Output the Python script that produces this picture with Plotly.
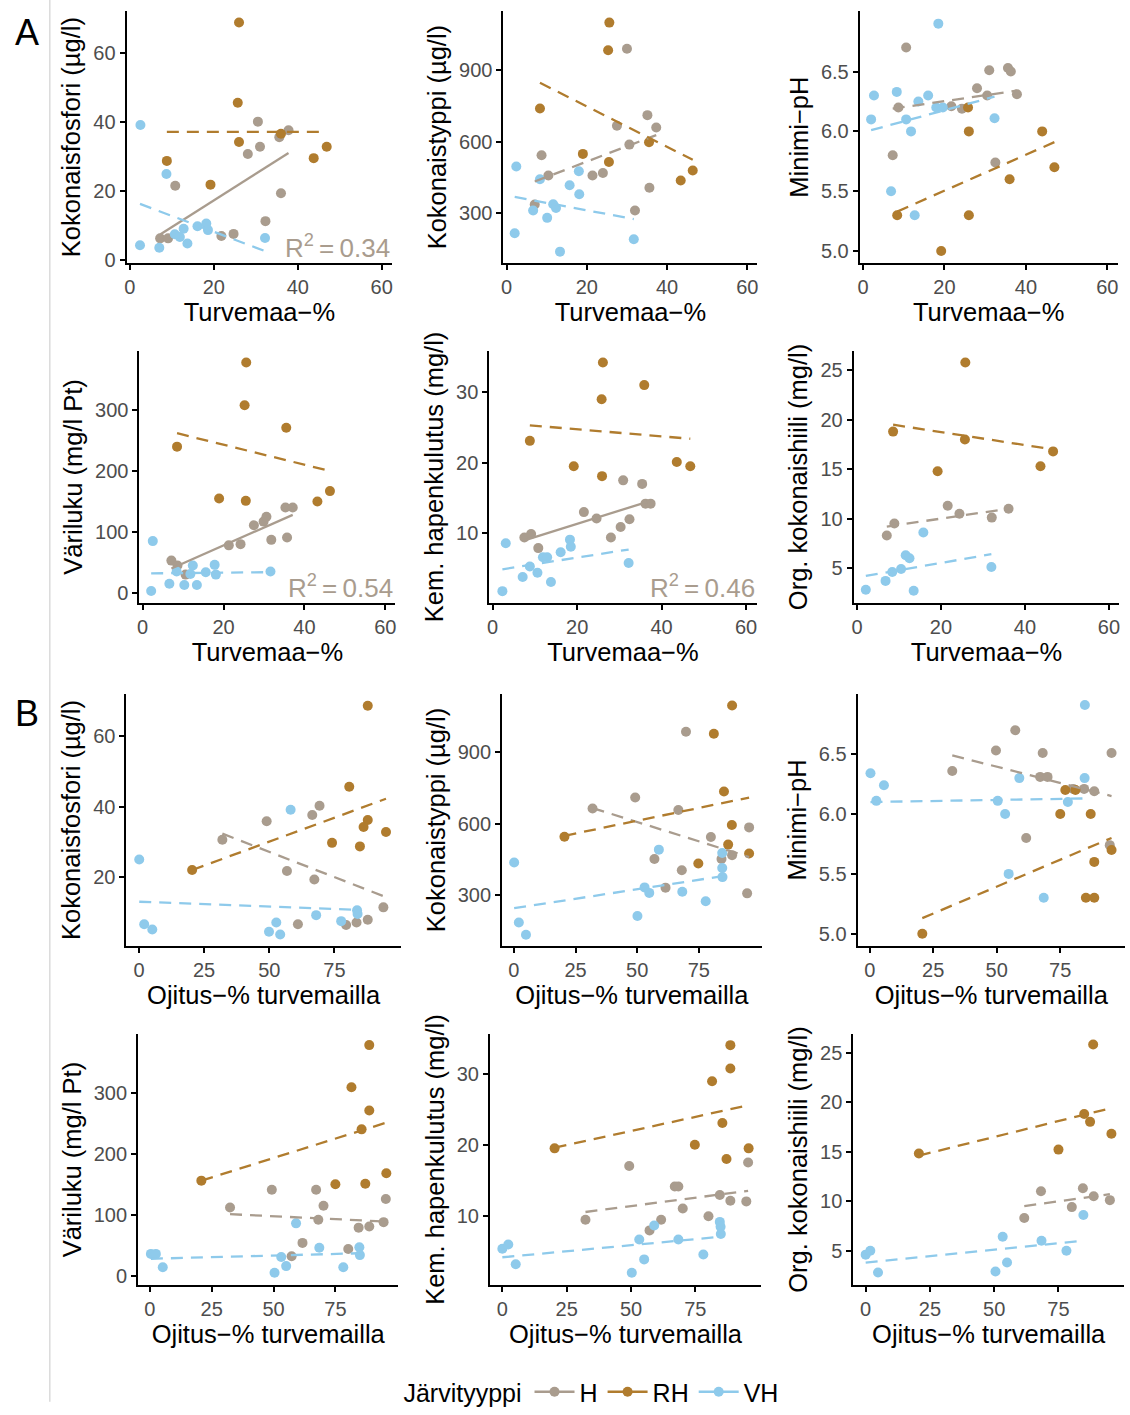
import plotly.graph_objects as go
from plotly.subplots import make_subplots

# ---------------- data ----------------
GROUPS = ["H", "RH", "VH"]
LEGEND_TITLE = "Järvityyppi"
A_XTICKS = [0, 20, 40, 60]
B_XTICKS = [0, 25, 50, 75]
A_XTITLE = "Turvemaa−%"
B_XTITLE = "Ojitus−% turvemailla"

# A1 Kokonaisfosfori vs Turvemaa-%
A_TP_H_x = [7.2, 9.1, 10.8, 21.8, 24.7, 28.1, 30.5, 31.0, 32.3, 35.6, 37.8, 36.0]
A_TP_H_y = [6.3, 6.3, 21.6, 7.0, 7.6, 30.8, 40.2, 32.9, 11.3, 35.7, 37.7, 19.4]
A_TP_RH_x = [26.0, 25.7, 26.0, 8.8, 19.2, 36.0, 43.8, 46.9]
A_TP_RH_y = [69.0, 45.7, 34.3, 28.8, 21.9, 36.7, 29.6, 32.9]
A_TP_VH_x = [2.5, 2.4, 7.0, 8.7, 10.7, 11.9, 12.8, 13.7, 16.1, 18.2, 18.6, 32.2]
A_TP_VH_y = [39.2, 4.3, 3.6, 25.0, 7.5, 6.7, 9.1, 4.8, 9.8, 10.6, 8.7, 6.4]
A_TP_trend = [[7.4, 31.1], [37.2, 37.2], [16.3, 2.6]]  # H, RH, VH at min/max x

# A2 Kokonaistyppi
A_TN_H_x = [30.0, 8.7, 7.0, 10.4, 21.4, 24.0, 27.5, 30.6, 35.1, 37.3, 35.6, 32.0]
A_TN_H_y = [990, 542, 335, 457, 457, 468, 666, 587, 711, 659, 406, 310]
A_TN_RH_x = [25.6, 25.3, 8.3, 19.0, 25.5, 35.5, 43.4, 46.4]
A_TN_RH_y = [1100, 984, 739, 548, 514, 597, 436, 478]
A_TN_VH_x = [2.4, 2.0, 6.6, 8.3, 10.1, 11.6, 12.3, 13.3, 15.7, 18.0, 18.1, 31.7]
A_TN_VH_y = [495, 214, 310, 441, 279, 336, 321, 137, 416, 475, 378, 189]
A_TN_trend = [[432, 627], [847, 523], [367, 274]]

# A3 Minimi-pH
A_PH_H_x = [10.6, 7.3, 8.7, 21.7, 24.3, 28.0, 31.0, 30.5, 35.6, 36.3, 37.8, 32.5]
A_PH_H_y = [6.70, 5.80, 6.20, 6.21, 6.19, 6.36, 6.51, 6.30, 6.53, 6.50, 6.31, 5.74]
A_PH_RH_x = [8.4, 19.2, 25.8, 26.0, 26.0, 36.0, 44.0, 47.0]
A_PH_RH_y = [5.30, 5.00, 6.20, 6.00, 5.30, 5.60, 6.00, 5.70]
A_PH_VH_x = [18.5, 2.7, 2.0, 8.3, 10.6, 11.8, 13.6, 16.0, 18.0, 19.6, 6.9, 12.7, 32.3]
A_PH_VH_y = [6.90, 6.30, 6.10, 6.33, 6.10, 6.00, 6.25, 6.30, 6.20, 6.20, 5.50, 5.30, 6.11]
A_PH_trend = [[6.19, 6.34], [5.33, 5.91], [6.01, 6.29]]

# A4 Väriluku
A_COL_H_x = [7.1, 8.6, 10.6, 21.3, 24.2, 27.5, 29.9, 30.6, 31.8, 35.3, 37.1, 35.7]
A_COL_H_y = [53, 45, 30, 78, 80, 111, 117, 125, 87, 140, 140, 91]
A_COL_RH_x = [25.6, 25.2, 35.5, 8.5, 18.9, 25.5, 43.2, 46.3]
A_COL_RH_y = [378, 308, 271, 240, 155, 151, 150, 167]
A_COL_VH_x = [2.5, 2.1, 6.6, 8.4, 10.3, 11.8, 12.4, 13.4, 15.6, 17.8, 18.1, 31.6]
A_COL_VH_y = [85, 3, 15, 35, 13, 31, 45, 13, 34, 46, 30, 35]
A_COL_trend = [[40, 128], [262, 200], [32, 34]]

# A5 Kem. hapenkulutus
A_COD_H_x = [30.9, 35.4, 21.6, 24.6, 36.2, 37.4, 32.4, 30.3, 28.0, 7.5, 9.1, 10.8]
A_COD_H_y = [17.5, 17.0, 13.0, 12.1, 14.2, 14.2, 12.0, 10.9, 9.4, 9.4, 9.9, 7.9]
A_COD_RH_x = [26.1, 25.8, 35.9, 8.8, 19.2, 25.9, 43.6, 46.8]
A_COD_RH_y = [34.2, 29.0, 31.0, 23.1, 19.5, 18.1, 20.1, 19.5]
A_COD_VH_x = [3.1, 2.3, 7.1, 8.8, 10.6, 11.9, 12.9, 13.8, 16.1, 18.3, 18.5, 32.2]
A_COD_VH_y = [8.6, 1.8, 3.8, 5.3, 4.4, 6.6, 6.6, 3.1, 7.3, 9.1, 8.1, 5.8]
A_COD_trend = [[9.0, 14.6], [25.3, 23.4], [4.9, 7.7]]

# A6 Org. kokonaishiili
A_TOC_H_x = [7.1, 8.9, 21.6, 24.4, 32.1, 36.1]
A_TOC_H_y = [8.3, 9.5, 11.3, 10.5, 10.1, 11.0]
A_TOC_RH_x = [25.8, 8.6, 25.7, 19.2, 43.7, 46.7]
A_TOC_RH_y = [25.8, 18.8, 18.0, 14.8, 15.3, 16.8]
A_TOC_VH_x = [2.1, 6.8, 8.4, 10.5, 11.6, 12.5, 13.5, 15.8, 32.0]
A_TOC_VH_y = [2.8, 3.7, 4.6, 4.9, 6.3, 6.0, 2.7, 8.6, 5.1]
A_TOC_trend = [[9.2, 11.0], [19.5, 17.0], [4.2, 6.4]]

# B1 Kokonaisfosfori vs Ojitus-%
B_TP_H_x = [69.3, 66.5, 49.0, 32.0, 56.8, 67.3, 93.8, 61.0, 79.5, 83.5, 87.8]
B_TP_H_y = [40.2, 37.6, 35.8, 30.6, 21.7, 19.3, 11.4, 6.6, 6.4, 7.1, 7.9]
B_TP_RH_x = [87.8, 80.7, 87.8, 86.2, 94.8, 74.1, 84.8, 20.4]
B_TP_RH_y = [68.6, 45.6, 36.2, 34.2, 32.8, 29.7, 28.7, 22.0]
B_TP_VH_x = [0.1, 2.0, 5.1, 58.2, 52.7, 49.9, 54.2, 68.0, 77.6, 83.7, 83.9]
B_TP_VH_y = [25.0, 6.6, 5.1, 39.1, 7.1, 4.5, 3.7, 9.2, 7.5, 10.6, 9.5]
B_TP_trend = [[32.3, 14.6], [22.0, 42.2], [13.0, 10.7]]

# B2 Kokonaistyppi
B_TN_H_x = [69.8, 49.2, 31.9, 66.7, 79.9, 95.4, 57.0, 84.2, 88.5, 68.1, 61.5, 94.6]
B_TN_H_y = [984, 709, 663, 657, 544, 584, 452, 452, 468, 405, 332, 308]
B_TN_RH_x = [88.5, 81.1, 85.2, 88.4, 86.9, 95.4, 74.8, 20.5]
B_TN_RH_y = [1094, 976, 734, 594, 512, 475, 433, 545]
B_TN_VH_x = [0.1, 2.0, 4.9, 58.8, 84.5, 84.5, 84.6, 53.0, 54.9, 68.3, 77.8, 50.1]
B_TN_VH_y = [437, 186, 135, 491, 477, 414, 376, 333, 310, 315, 275, 213]
B_TN_trend = [[665, 460], [549, 709], [246, 380]]

# B3 Minimi-pH
B_PH_H_x = [57.3, 49.7, 68.1, 32.5, 67.1, 70.0, 80.1, 84.4, 88.4, 95.2, 61.6, 94.5]
B_PH_H_y = [6.70, 6.53, 6.51, 6.36, 6.31, 6.31, 6.21, 6.21, 6.19, 6.51, 5.80, 5.74]
B_PH_RH_x = [77.0, 81.0, 75.0, 87.0, 88.4, 95.2, 85.1, 88.4, 20.7]
B_PH_RH_y = [6.20, 6.20, 6.00, 6.00, 5.60, 5.70, 5.30, 5.30, 5.00]
B_PH_VH_x = [84.7, 0.3, 2.6, 5.6, 58.9, 50.4, 53.3, 54.7, 68.5, 78.0, 84.6]
B_PH_VH_y = [6.91, 6.34, 6.11, 6.24, 6.30, 6.11, 6.00, 5.50, 5.30, 6.10, 6.30]
B_PH_trend = [[6.49, 6.15], [5.13, 5.80], [6.10, 6.13]]

# B4 Väriluku
B_COL_H_x = [32.4, 49.3, 67.2, 70.2, 68.1, 95.4, 61.7, 57.3, 80.2, 84.4, 88.7, 94.5]
B_COL_H_y = [112, 141, 141, 115, 92, 126, 54, 32, 44, 79, 81, 88]
B_COL_RH_x = [88.7, 81.5, 88.7, 85.6, 20.8, 75.0, 87.1, 95.6]
B_COL_RH_y = [378, 309, 271, 240, 156, 150, 151, 168]
B_COL_VH_x = [0.4, 2.4, 5.2, 59.1, 50.4, 53.1, 55.1, 68.5, 78.2, 84.7, 84.9]
B_COL_VH_y = [36, 36, 14, 86, 5, 31, 16, 46, 14, 47, 34]
B_COL_trend = [[101, 89], [156, 251], [28, 37]]

# B5 Kem. hapenkulutus
B_COD_H_x = [49.3, 67.0, 68.4, 95.5, 32.3, 70.1, 84.5, 88.6, 94.8, 80.1, 61.7, 57.2]
B_COD_H_y = [17.0, 14.1, 14.1, 17.5, 9.4, 11.0, 12.9, 12.1, 12.0, 9.9, 9.4, 7.9]
B_COD_RH_x = [88.6, 88.6, 81.5, 85.5, 20.3, 74.8, 87.1, 95.7]
B_COD_RH_y = [34.1, 30.8, 29.0, 23.1, 19.5, 20.0, 18.0, 19.5]
B_COD_VH_x = [0.0, 2.3, 5.2, 53.2, 59.0, 50.3, 55.1, 68.4, 78.1, 84.5, 84.8, 84.9]
B_COD_VH_y = [5.3, 5.9, 3.1, 6.6, 8.6, 1.9, 3.8, 6.6, 4.5, 9.1, 8.4, 7.4]
B_COD_trend = [[10.5, 13.5], [19.6, 25.6], [4.1, 7.0]]

# B6 Org. kokonaishiili
B_TOC_H_x = [61.7, 68.2, 80.2, 84.5, 88.7, 95.0]
B_TOC_H_y = [8.3, 11.0, 9.4, 11.3, 10.5, 10.1]
B_TOC_RH_x = [88.5, 85.0, 87.3, 20.7, 75.0, 95.6]
B_TOC_RH_y = [25.8, 18.8, 18.0, 14.8, 15.2, 16.8]
B_TOC_VH_x = [0.0, 1.8, 4.8, 53.3, 50.5, 55.0, 68.4, 78.1, 84.7]
B_TOC_VH_y = [4.6, 5.0, 2.8, 6.4, 2.9, 3.8, 6.0, 5.0, 8.6]
B_TOC_trend = [[9.5, 10.7], [14.6, 19.4], [3.8, 6.0]]

YT_TP = "Kokonaisfosfori (µg/l)"
YT_TN = "Kokonaistyppi (µg/l)"
YT_PH = "Minimi−pH"
YT_COL = "Väriluku (mg/l Pt)"
YT_COD = "Kem. hapenkulutus (mg/l)"
YT_TOC = "Org. kokonaishiili (mg/l)"

R2_LABELS = ["0.34", "0.54", "0.46"]

# ---------------- styling / layout ----------------
COLORS = {"H": "#A99C8E", "RH": "#B07C2E", "VH": "#8ECAEB"}
FONT = "Liberation Sans, Arial, sans-serif"
W, H = 1130, 1415
TICK_SIZE = 20
TITLE_SIZE = 25.5

ROWS_PX = [(11.5, 264.5), (353.5, 606.5), (698.5, 952.0), (1040.3, 1293.7)]


def P(xs, ys, trend, ytitle, yticks, yrange, part, cols, solid=None, r2=None, tfmt=None):
    return dict(x=xs, y=ys, trend=trend, ytitle=ytitle, yticks=yticks, yrange=yrange,
                part=part, cols=cols, solid=solid, r2=r2, tfmt=tfmt)


PANELS = [
    P([A_TP_H_x, A_TP_RH_x, A_TP_VH_x], [A_TP_H_y, A_TP_RH_y, A_TP_VH_y], A_TP_trend,
      YT_TP, [0, 20, 40, 60], [-0.8, 72.2], "A", (124.9, 391.2), "H", R2_LABELS[0]),
    P([A_TN_H_x, A_TN_RH_x, A_TN_VH_x], [A_TN_H_y, A_TN_RH_y, A_TN_VH_y], A_TN_trend,
      YT_TN, [300, 600, 900], [90, 1147], "A", (502.8, 757.3)),
    P([A_PH_H_x, A_PH_RH_x, A_PH_VH_x], [A_PH_H_y, A_PH_RH_y, A_PH_VH_y], A_PH_trend,
      YT_PH, [5.0, 5.5, 6.0, 6.5], [4.902, 7.002], "A", (860.0, 1118.5), tfmt=".1f"),
    P([A_COL_H_x, A_COL_RH_x, A_COL_VH_x], [A_COL_H_y, A_COL_RH_y, A_COL_VH_y], A_COL_trend,
      YT_COL, [0, 100, 200, 300], [-16, 396.5], "A", (137.8, 394.5), "H", R2_LABELS[1]),
    P([A_COD_H_x, A_COD_RH_x, A_COD_VH_x], [A_COD_H_y, A_COD_RH_y, A_COD_VH_y], A_COD_trend,
      YT_COD, [10, 20, 30], [0.17, 35.8], "A", (488.6, 756.6), "H", R2_LABELS[2]),
    P([A_TOC_H_x, A_TOC_RH_x, A_TOC_VH_x], [A_TOC_H_y, A_TOC_RH_y, A_TOC_VH_y], A_TOC_trend,
      YT_TOC, [5, 10, 15, 20, 25], [1.5, 26.93], "A", (853.9, 1120.4)),
    P([B_TP_H_x, B_TP_RH_x, B_TP_VH_x], [B_TP_H_y, B_TP_RH_y, B_TP_VH_y], B_TP_trend,
      YT_TP, [20, 40, 60], [0.46, 71.9], "B", (124.8, 399.9)),
    P([B_TN_H_x, B_TN_RH_x, B_TN_VH_x], [B_TN_H_y, B_TN_RH_y, B_TN_VH_y], B_TN_trend,
      YT_TN, [300, 600, 900], [88, 1142], "B", (501.4, 761.7)),
    P([B_PH_H_x, B_PH_RH_x, B_PH_VH_x], [B_PH_H_y, B_PH_RH_y, B_PH_VH_y], B_PH_trend,
      YT_PH, [5.0, 5.5, 6.0, 6.5], [4.898, 7.002], "B", (857.8, 1126.0), tfmt=".1f"),
    P([B_COL_H_x, B_COL_RH_x, B_COL_VH_x], [B_COL_H_y, B_COL_RH_y, B_COL_VH_y], B_COL_trend,
      YT_COL, [0, 100, 200, 300], [-15.75, 396.75], "B", (136.4, 397.5)),
    P([B_COD_H_x, B_COD_RH_x, B_COD_VH_x], [B_COD_H_y, B_COD_RH_y, B_COD_VH_y], B_COD_trend,
      YT_COD, [10, 20, 30], [0.11, 35.72], "B", (489.3, 761.0)),
    P([B_TOC_H_x, B_TOC_RH_x, B_TOC_VH_x], [B_TOC_H_y, B_TOC_RH_y, B_TOC_VH_y], B_TOC_trend,
      YT_TOC, [5, 10, 15, 20, 25], [1.49, 26.9], "B", (853.6, 1125.0)),
]

fig = make_subplots(rows=4, cols=3)

annotations = []
for i, p in enumerate(PANELS):
    r, c = i // 3 + 1, i % 3 + 1
    n = i + 1
    # points
    for g, xs, ys in zip(GROUPS, p["x"], p["y"]):
        fig.add_trace(go.Scatter(x=xs, y=ys, mode="markers", showlegend=False,
                                 marker=dict(color=COLORS[g], size=10, line=dict(width=0)),
                                 hoverinfo="skip"), row=r, col=c)
    # trend lines
    for g, xs, ty in zip(GROUPS, p["x"], p["trend"]):
        dash = "solid" if p["solid"] == g else "12px,8px"
        fig.add_trace(go.Scatter(x=[min(xs), max(xs)], y=ty, mode="lines", showlegend=False,
                                 line=dict(color=COLORS[g], width=2.3, dash=dash),
                                 hoverinfo="skip"), row=r, col=c)

    left, right = p["cols"]
    top, bottom = ROWS_PX[r - 1]
    xa = "xaxis" if n == 1 else f"xaxis{n}"
    ya = "yaxis" if n == 1 else f"yaxis{n}"
    is_a = p["part"] == "A"
    xticks = A_XTICKS if is_a else B_XTICKS
    xrange = [-0.8, 62.5] if is_a else [-4.8, 100.5]
    axis_common = dict(showline=True, linecolor="black", linewidth=2, ticks="outside",
                       ticklen=5, tickwidth=1.6, tickcolor="black", showgrid=False,
                       zeroline=False, tickfont=dict(size=TICK_SIZE, color="#4D4D4D", family=FONT))
    fig.layout[xa].update(domain=[left / W, right / W], range=xrange, tickvals=xticks,
                          title=dict(text=A_XTITLE if is_a else B_XTITLE, standoff=5,
                                     font=dict(size=TITLE_SIZE, color="black", family=FONT)),
                          **axis_common)
    ydict = dict(domain=[1 - bottom / H, 1 - top / H], range=p["yrange"], tickvals=p["yticks"],
                 title=dict(text=p["ytitle"], standoff=5,
                            font=dict(size=TITLE_SIZE, color="black", family=FONT)),
                 **axis_common)
    if p["tfmt"]:
        ydict["tickformat"] = p["tfmt"]
    fig.layout[ya].update(**ydict)

    if p["r2"]:
        annotations.append(dict(
            text=f"R<sup>2</sup>\u2009=\u20090.{p['r2'].split('.')[1]}" if p["r2"].startswith("0.")
            else f"R<sup>2</sup> = {p['r2']}",
            xref=f"x{'' if n == 1 else n} domain",
            yref=f"y{'' if n == 1 else n} domain", x=1.0, y=-0.01, xanchor="right",
            yanchor="bottom", showarrow=False,
            font=dict(size=26, color=COLORS["H"], family=FONT)))

# legend entries
for g in GROUPS:
    fig.add_trace(go.Scatter(x=[None], y=[None], mode="lines+markers", name=g,
                             line=dict(color=COLORS[g], width=2.3),
                             marker=dict(color=COLORS[g], size=10)), row=1, col=1)

annotations.append(dict(text="A", xref="paper", yref="paper", x=25 / W, y=1 - 33 / H,
                        xanchor="center", yanchor="middle", showarrow=False,
                        font=dict(size=36, color="black", family=FONT)))
annotations.append(dict(text="B", xref="paper", yref="paper", x=25 / W, y=1 - 718 / H,
                        xanchor="center", yanchor="middle", showarrow=False,
                        font=dict(size=36, color="black", family=FONT)))

fig.update_layout(
    width=W, height=H, margin=dict(l=0, r=0, t=0, b=0),
    paper_bgcolor="white", plot_bgcolor="white",
    font=dict(family=FONT, color="black"),
    annotations=annotations,
    shapes=[dict(type="line", xref="paper", yref="paper", x0=48 / W, x1=48 / W, y0=0.003, y1=1,
                 line=dict(color="#C8C8C8", width=1))],
    legend=dict(orientation="h", x=592 / W, xanchor="center", y=1 - 1401 / H, yanchor="middle",
                title=dict(text=LEGEND_TITLE, side="left", font=dict(size=25, color="black")),
                font=dict(size=25, color="black"), itemwidth=40, bgcolor="rgba(0,0,0,0)"),
)

fig.write_html("out.html", config={"displayModeBar": False},
               post_script="document.body.style.margin='0px';")
